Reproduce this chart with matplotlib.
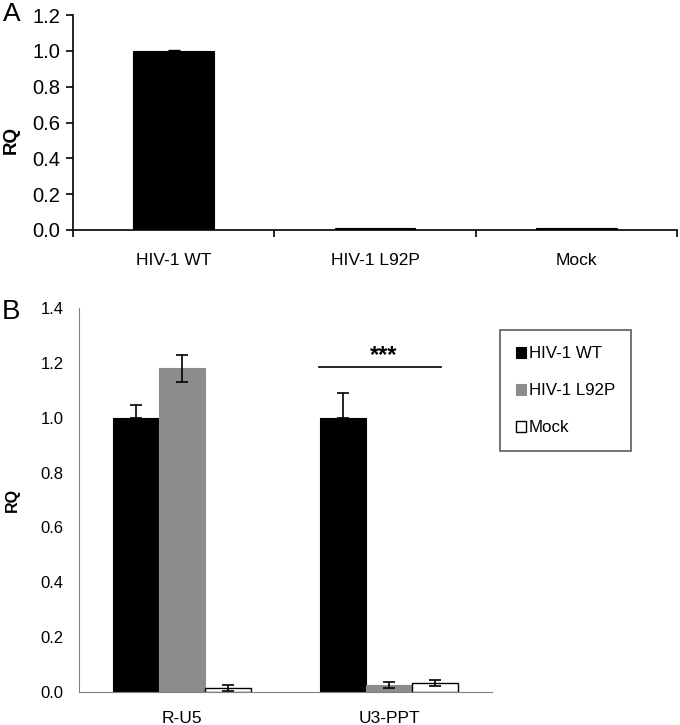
import matplotlib.pyplot as plt
import numpy as np

plt.rcParams['font.family'] = ['Liberation Sans', 'DejaVu Sans']

# -------------------------------------------------------
# Data
# -------------------------------------------------------
a_groups = ["HIV-1 WT", "HIV-1 L92P", "Mock"]
a_values = [1.0, 0.01, 0.01]
a_errors = [0.006, 0.0, 0.0]

b_groups = ["R-U5", "U3-PPT"]
b_series = ["HIV-1 WT", "HIV-1 L92P", "Mock"]
b_wt = [1.0, 1.0]
b_wt_err = [0.045, 0.09]
b_l92p = [1.18, 0.025]
b_l92p_err = [0.048, 0.012]
b_mock = [0.015, 0.033]
b_mock_err = [0.01, 0.012]

a_yticks = [0.0, 0.2, 0.4, 0.6, 0.8, 1.0, 1.2]
b_yticks = [0.0, 0.2, 0.4, 0.6, 0.8, 1.0, 1.2, 1.4]

fig = plt.figure(figsize=(6.8, 7.25), dpi=100)

# -------------------------------------------------------
# Panel A
# -------------------------------------------------------
axA = fig.add_axes([0.107, 0.683, 0.889, 0.296])
xa = np.arange(len(a_groups))
axA.bar(xa, a_values, width=0.4, color="black", edgecolor="black", linewidth=0.8)
axA.errorbar(xa[:1], a_values[:1], yerr=[[0], a_errors[:1]], fmt="none",
             ecolor="black", elinewidth=1, capsize=4)
axA.set_xlim(-0.5, 2.5)
axA.set_ylim(0, 1.2)
axA.set_yticks(a_yticks)
axA.set_yticklabels(["%.1f" % t for t in a_yticks], fontsize=14.5)
axA.set_xticks([-0.5, 0.5, 1.5, 2.5])
axA.set_xticklabels([])
axA.set_xticks(xa, minor=True)
axA.set_xticklabels(a_groups, minor=True, fontsize=12.5)
axA.tick_params(axis="x", which="minor", length=0, pad=17)
axA.tick_params(axis="x", which="major", length=5, direction="out", width=1.2)
axA.tick_params(axis="y", length=5, width=1.2, pad=4)
axA.spines["top"].set_visible(False)
axA.spines["right"].set_visible(False)
for s in ["left", "bottom"]:
    axA.spines[s].set_linewidth(1.2)
axA.set_ylabel("RQ", fontsize=13.5, fontweight="bold")
axA.yaxis.set_label_coords(-0.088, 0.42)
fig.text(0.004, 0.981, "A", fontsize=19, va="center")

# -------------------------------------------------------
# Panel B
# -------------------------------------------------------
axB = fig.add_axes([0.116, 0.0455, 0.608, 0.5295])
xb = np.arange(len(b_groups))
w = 0.223
axB.bar(xb - w, b_wt, width=w, color="black", edgecolor="black",
        linewidth=0.8, label=b_series[0])
axB.bar(xb, b_l92p, width=w, color="#8c8c8c", edgecolor="#8c8c8c",
        linewidth=0.8, label=b_series[1])
axB.bar(xb + w, b_mock, width=w, color="white", edgecolor="black",
        linewidth=1, label=b_series[2])
axB.errorbar(xb - w, b_wt, yerr=[[0, 0], b_wt_err], fmt="none",
             ecolor="black", elinewidth=1.2, capsize=4, capthick=1.2)
axB.errorbar(xb, b_l92p, yerr=b_l92p_err, fmt="none",
             ecolor="black", elinewidth=1.2, capsize=4, capthick=1.2)
axB.errorbar(xb + w, b_mock, yerr=b_mock_err, fmt="none",
             ecolor="black", elinewidth=1.2, capsize=4, capthick=1.2)
axB.set_xlim(-0.5, 1.5)
axB.set_ylim(0, 1.4)
axB.set_yticks(b_yticks)
axB.set_yticklabels(["%.1f" % t for t in b_yticks], fontsize=12)
axB.set_xticks(xb)
axB.set_xticklabels(b_groups, fontsize=12.5)
axB.tick_params(axis="x", length=0, pad=14)
axB.tick_params(axis="y", length=0, pad=11)
for s in ["top", "right"]:
    axB.spines[s].set_visible(False)
for s in ["left", "bottom"]:
    axB.spines[s].set_color("#808080")
axB.set_ylabel("RQ", fontsize=11.5, fontweight="bold")
axB.yaxis.set_label_coords(-0.142, 0.5)

# significance bar over U3-PPT
axB.plot([0.662, 1.253], [1.187, 1.187], color="black", lw=1.2)
axB.text(0.972, 1.185, "***", ha="center", va="bottom", fontsize=17, fontweight="bold")

leg = axB.legend(loc="upper left", bbox_to_anchor=(1.019, 0.943), fontsize=12.2,
                 frameon=True, fancybox=False, edgecolor="#333333",
                 handlelength=0.6, handleheight=0.6, handletextpad=0.15,
                 labelspacing=1.3, borderpad=0.95, borderaxespad=0)
leg.get_frame().set_linewidth(1.2)
fig.text(0.003, 0.570, "B", fontsize=20, va="center")

fig.savefig("out.png", dpi=100)
